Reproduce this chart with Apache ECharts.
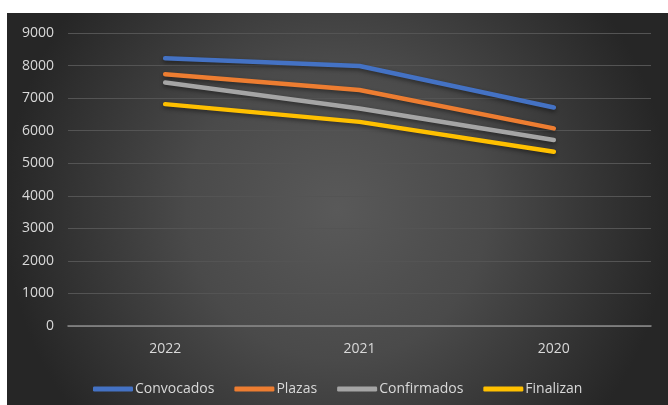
<!DOCTYPE html>
<html>
<head>
<meta charset="utf-8">
<script src="https://cdn.jsdelivr.net/npm/echarts@6/dist/echarts.min.js"></script>
<style>
  html, body { margin: 0; padding: 0; background: #fff; }
  #chart-container { position: absolute; left: 7px; top: 13px; width: 661px; height: 392px; }
</style>
</head>
<body>
<div id="chart-container"></div>
<script>
const years = ['2022', '2021', '2020'];
const convocados = [8225, 7985, 6710];
const plazas = [7735, 7250, 6070];
const confirmados = [7480, 6680, 5715];
const finalizan = [6815, 6270, 5355];
const seriesNames = ['Convocados', 'Plazas', 'Confirmados', 'Finalizan'];
const colors = ['#4472C4', '#ED7D31', '#A5A5A5', '#FFC000'];

const chartDom = document.getElementById('chart-container');
const myChart = echarts.init(chartDom);

function lineSeries(name, data, color) {
  return {
    name: name,
    type: 'line',
    data: data,
    symbol: 'none',
    lineStyle: {
      width: 4.5,
      color: color,
      cap: 'round',
      join: 'round',
      shadowColor: 'rgba(0,0,0,0.45)',
      shadowBlur: 4,
      shadowOffsetY: 2
    },
    itemStyle: { color: color }
  };
}

const labelFont = { color: '#d9d9d9', fontSize: 14, fontFamily: 'Open Sans' };

const option = {
  backgroundColor: {
    type: 'radial', x: 0.5, y: 0.5, r: 0.85,
    colorStops: [
      { offset: 0, color: '#595959' },
      { offset: 0.45, color: '#4a4a4a' },
      { offset: 1, color: '#262626' }
    ]
  },
  animation: false,
  grid: { left: 61, right: 17, top: 20, bottom: 79 },
  legend: {
    top: 364,
    left: 81,
    data: seriesNames,
    icon: 'roundRect',
    itemWidth: 40,
    itemHeight: 5,
    itemGap: 20,
    textStyle: Object.assign({ padding: [0, 0, 0, -3] }, labelFont)
  },
  xAxis: {
    type: 'category',
    data: years,
    boundaryGap: true,
    axisLine: { lineStyle: { color: '#8c8c8c', width: 1.5 } },
    axisTick: { show: false },
    axisLabel: Object.assign({ margin: 16 }, labelFont)
  },
  yAxis: {
    type: 'value',
    min: 0,
    max: 9000,
    interval: 1000,
    axisLine: { show: false },
    axisTick: { show: false },
    axisLabel: Object.assign({ margin: 14, formatter: function (v) { return String(v); } }, labelFont),
    splitLine: { lineStyle: { color: '#545454', width: 1 } }
  },
  series: [
    lineSeries(seriesNames[0], convocados, colors[0]),
    lineSeries(seriesNames[1], plazas, colors[1]),
    lineSeries(seriesNames[2], confirmados, colors[2]),
    lineSeries(seriesNames[3], finalizan, colors[3])
  ]
};
myChart.setOption(option);
</script>
</body>
</html>
